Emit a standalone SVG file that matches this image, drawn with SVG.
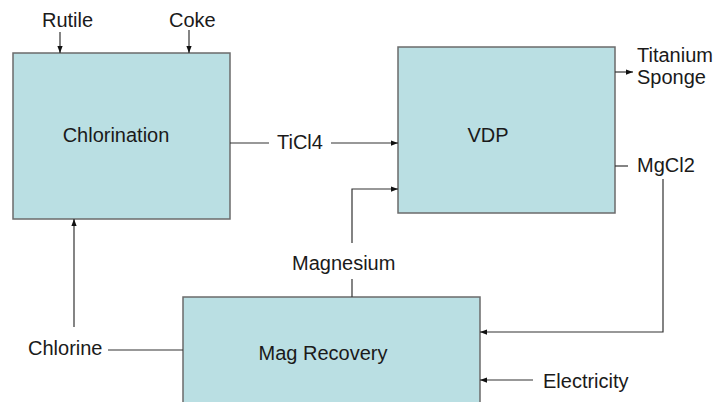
<svg xmlns="http://www.w3.org/2000/svg" width="715" height="402" viewBox="0 0 715 402">
<defs>
<marker id="ah" viewBox="0 0 8 8" refX="8" refY="4" markerWidth="7" markerHeight="7" markerUnits="userSpaceOnUse" orient="auto">
<path d="M0,1 L8,4 L0,7 z" fill="#111"/>
</marker>
<style>
.box{fill:#badfe3;stroke:#6b6b6b;stroke-width:1.5}
.t{font-family:"Liberation Sans",Arial,sans-serif;font-size:20px;fill:#1a1a1a}
.c{stroke:#333;stroke-width:1.2;fill:none}
.a{marker-end:url(#ah)}
</style>
</defs>
<rect width="715" height="402" fill="#fff"/>
<g id="chlorination">
<rect class="box" x="13" y="53" width="217" height="166"/>
<text class="t" x="116" y="142" text-anchor="middle">Chlorination</text>
</g>
<g id="vdp">
<rect class="box" x="398" y="47" width="217" height="166"/>
<text class="t" x="488" y="142" text-anchor="middle">VDP</text>
</g>
<g id="magrecovery">
<rect class="box" x="183" y="297" width="297" height="115"/>
<text class="t" x="323" y="360" text-anchor="middle">Mag Recovery</text>
</g>
<g id="connectors">
<path class="c a" d="M60,32 V53"/>
<path class="c a" d="M189,30 V53"/>
<path class="c" d="M230,143 H269"/>
<path class="c a" d="M331,143 H398"/>
<path class="c a" d="M615,72 H633"/>
<path class="c" d="M615,166 H628"/>
<path class="c a" d="M663,179 V332 H480"/>
<path class="c a" d="M352,243 V189 H398"/>
<path class="c" d="M352,279 V297"/>
<path class="c" d="M108,350 H183"/>
<path class="c a" d="M74,327 V219"/>
<path class="c a" d="M533,380 H480"/>
</g>
<g id="labels">
<text class="t" x="42" y="27">Rutile</text>
<text class="t" x="169" y="27">Coke</text>
<text class="t" x="277" y="149">TiCl4</text>
<text class="t" x="637" y="62">Titanium</text>
<text class="t" x="637" y="84">Sponge</text>
<text class="t" x="637" y="172">MgCl2</text>
<text class="t" x="292" y="270">Magnesium</text>
<text class="t" x="28" y="355">Chlorine</text>
<text class="t" x="543" y="388">Electricity</text>
</g>
</svg>
